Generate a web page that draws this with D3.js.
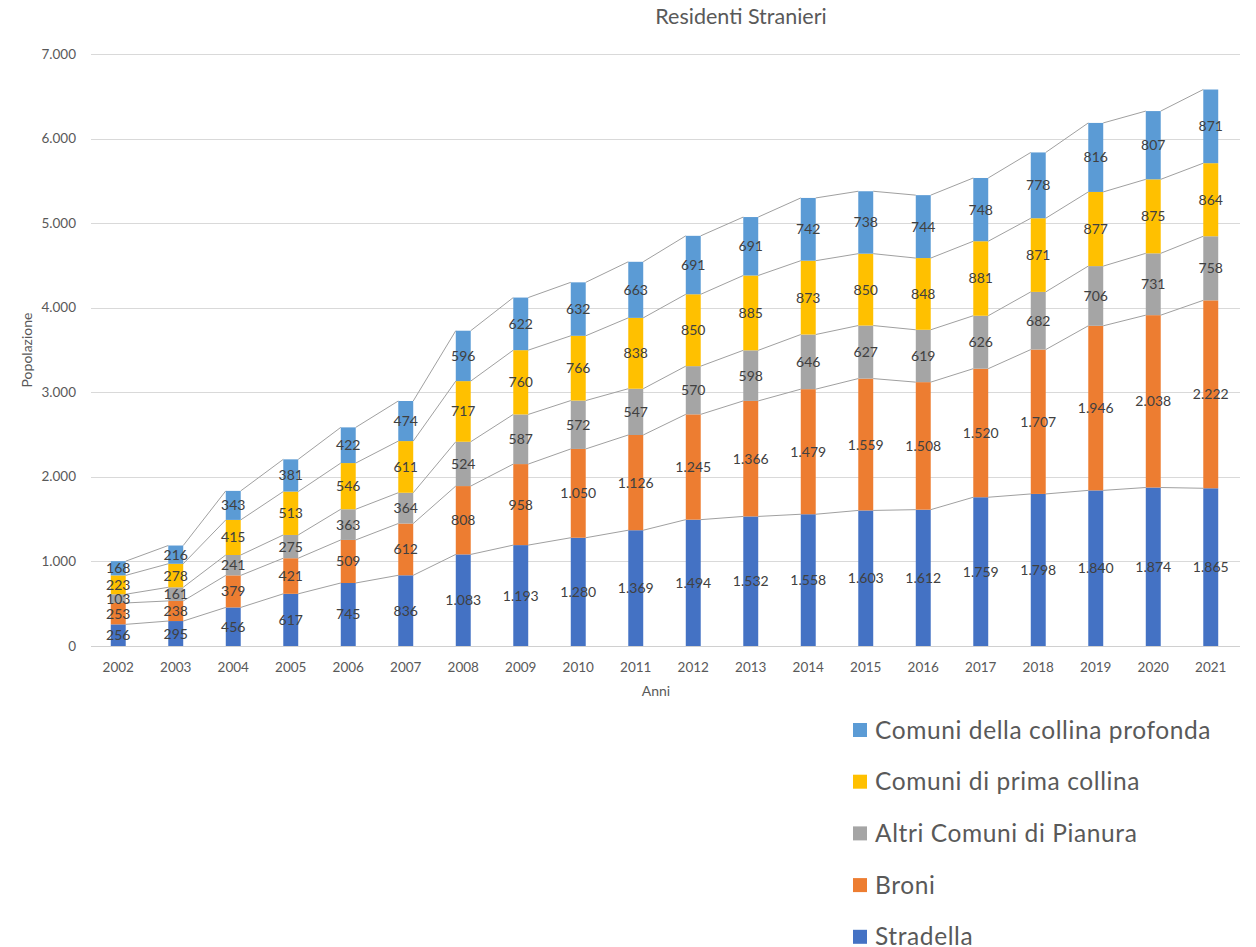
<!DOCTYPE html>
<html>
<head>
<meta charset="utf-8">
<script src="https://cdn.jsdelivr.net/npm/d3@7"></script>
<style>
  body { margin: 0; background: #fff; }
  svg text { font-family: Lato, "Open Sans", sans-serif; }
</style>
</head>
<body>
<div id="chart"></div>
<script>
// chart values
var anni = ["2002","2003","2004","2005","2006","2007","2008","2009","2010","2011",
            "2012","2013","2014","2015","2016","2017","2018","2019","2020","2021"];
var stradella = [256,295,456,617,745,836,1083,1193,1280,1369,1494,1532,1558,1603,1612,1759,1798,1840,1874,1865];
var broni = [253,238,379,421,509,612,808,958,1050,1126,1245,1366,1479,1559,1508,1520,1707,1946,2038,2222];
var altriPianura = [103,161,241,275,363,364,524,587,572,547,570,598,646,627,619,626,682,706,731,758];
var primaCollina = [223,278,415,513,546,611,717,760,766,838,850,885,873,850,848,881,871,877,875,864];
var collinaProfonda = [168,216,343,381,422,474,596,622,632,663,691,691,742,738,744,748,778,816,807,871];
var serieNomi = ["Stradella","Broni","Altri Comuni  di Pianura","Comuni di prima collina","Comuni della collina profonda"];
var yTicks = [0,1000,2000,3000,4000,5000,6000,7000];

var colori = ["#4472C4","#ED7D31","#A5A5A5","#FFC000","#5B9BD5"];
var serie = [stradella, broni, altriPianura, primaCollina, collinaProfonda];

var W = 1256, H = 947;
var it = d3.formatLocale({decimal: ",", thousands: ".", grouping: [3], currency: ["€", ""]});
var fmt = it.format(",d");

// build table for the stack
var righe = anni.map(function (a, i) {
    var r = {anno: a};
    serie.forEach(function (s, k) { r["s" + k] = s[i]; });
    return r;
});
var chiavi = serie.map(function (s, k) { return "s" + k; });
var stack = d3.stack().keys(chiavi)(righe);

var svg = d3.select("#chart").append("svg")
    .attr("width", W)
    .attr("height", H);

var x = d3.scaleBand()
    .domain(anni)
    .range([89.5, 1239.5])
    .paddingInner(0.74)
    .paddingOuter(0.37);

var y = d3.scaleLinear()
    .domain([0, 7000])
    .range([646, 54]);

// gridlines
svg.append("g")
    .selectAll("line")
    .data(yTicks)
    .enter()
    .append("line")
    .attr("x1", 91)
    .attr("x2", 1240)
    .attr("y1", function (d) { return Math.round(y(d)) + 0.5; })
    .attr("y2", function (d) { return Math.round(y(d)) + 0.5; })
    .attr("stroke", function (d) { return d === 0 ? "#d0d0d0" : "#d9d9d9"; })
    .attr("stroke-width", 1);

// y tick labels
svg.append("g")
    .selectAll("text")
    .data(yTicks)
    .enter()
    .append("text")
    .attr("x", 76)
    .attr("y", function (d) { return y(d) + 4.5; })
    .attr("text-anchor", "end")
    .attr("font-size", 13.5)
    .attr("fill", "#595959")
    .text(function (d) { return fmt(d); });

// x tick labels
svg.append("g")
    .selectAll("text")
    .data(anni)
    .enter()
    .append("text")
    .attr("x", function (d) { return x(d) + x.bandwidth() / 2; })
    .attr("y", 672)
    .attr("text-anchor", "middle")
    .attr("font-size", 13.5)
    .attr("fill", "#595959")
    .text(function (d) { return d; });

// series lines between bars
var linee = svg.append("g");
stack.forEach(function (layer) {
    for (var i = 0; i < layer.length - 1; i++) {
        linee.append("line")
            .attr("x1", x(anni[i]) + x.bandwidth())
            .attr("y1", y(layer[i][1]))
            .attr("x2", x(anni[i + 1]))
            .attr("y2", y(layer[i + 1][1]))
            .attr("stroke", "#a0a0a0")
            .attr("stroke-width", 1);
    }
});

// bars
var gruppi = svg.append("g")
    .selectAll("g")
    .data(stack)
    .enter()
    .append("g")
    .attr("fill", function (d, k) { return colori[k]; });

gruppi.selectAll("rect")
    .data(function (d) { return d; })
    .enter()
    .append("rect")
    .attr("x", function (d) { return x(d.data.anno); })
    .attr("width", x.bandwidth())
    .attr("y", function (d) { return y(d[1]); })
    .attr("height", function (d) { return y(d[0]) - y(d[1]); });

// data labels
var etichette = svg.append("g");
stack.forEach(function (layer) {
    etichette.selectAll(null)
        .data(layer)
        .enter()
        .append("text")
        .attr("x", function (d) { return x(d.data.anno) + x.bandwidth() / 2; })
        .attr("y", function (d) { return (y(d[0]) + y(d[1])) / 2 + 5; })
        .attr("text-anchor", "middle")
        .attr("font-size", 14)
        .attr("fill", "#404040")
        .text(function (d) { return fmt(d[1] - d[0]); });
});

// title
svg.append("text")
    .attr("x", 741)
    .attr("y", 24)
    .attr("text-anchor", "middle")
    .attr("font-size", 21.5)
    .attr("fill", "#595959")
    .text("Residenti Stranieri");

// axis titles
svg.append("text")
    .attr("transform", "translate(32,350) rotate(-90)")
    .attr("text-anchor", "middle")
    .attr("font-size", 14)
    .attr("fill", "#595959")
    .text("Popolazione");

svg.append("text")
    .attr("x", 656)
    .attr("y", 696)
    .attr("text-anchor", "middle")
    .attr("font-size", 14)
    .attr("fill", "#595959")
    .text("Anni");

// legend, top entry is the last series
var leg = svg.append("g")
    .selectAll("g")
    .data(serieNomi.slice().reverse())
    .enter()
    .append("g")
    .attr("transform", function (d, i) { return "translate(853," + (730 + i * 51.7) + ")"; });

leg.append("rect")
    .attr("x", 0)
    .attr("y", -7)
    .attr("width", 14)
    .attr("height", 14)
    .attr("fill", function (d, i) { return colori[colori.length - 1 - i]; });

leg.append("text")
    .attr("x", 22)
    .attr("y", 8.5)
    .attr("font-size", 24.5)
    .attr("letter-spacing", 0.6)
    .attr("fill", "#595959")
    .text(function (d) { return d; });
</script>
</body>
</html>
